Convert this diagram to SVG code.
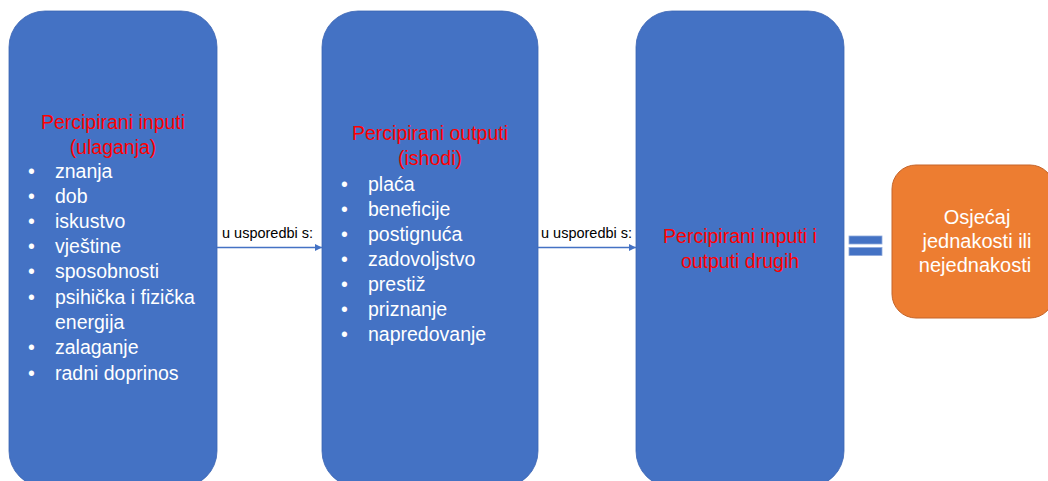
<svg xmlns="http://www.w3.org/2000/svg" width="1048" height="481" viewBox="0 0 1048 481">
<style>
.box{fill:#4472C4;stroke:#3B65B3;stroke-width:0.8}
.res{fill:#ED7D31;stroke:#C5652A;stroke-width:1}
.t{font-family:"Liberation Sans",Arial,sans-serif;font-size:19.5px}
.red{fill:#FF0000;text-anchor:middle}
.w{fill:#FFFFFF}
.wc{fill:#FFFFFF;text-anchor:middle;font-size:20px}
.lbl{font-family:"Liberation Sans",Arial,sans-serif;font-size:14.5px;fill:#000}
.con{stroke:#4472C4;stroke-width:1.5;fill:none}
</style>
<defs>
<marker id="ah" viewBox="0 0 10 10" refX="10" refY="5" markerWidth="5" markerHeight="5" orient="auto" markerUnits="strokeWidth">
<path d="M0,0 L10,5 L0,10 Z" fill="#4472C4"/>
</marker>
</defs>
<rect width="1048" height="481" fill="#FFFFFF"/>
<g id="inputs">
<rect class="box" x="9" y="11" width="208" height="476" rx="36" ry="36"/>
<text class="t red" x="113" y="129">Percipirani inputi</text>
<text class="t red" x="113" y="154">(ulaganja)</text>
<g class="t w">
<text x="28" y="178">•</text><text x="55" y="178">znanja</text>
<text x="28" y="203">•</text><text x="55" y="203">dob</text>
<text x="28" y="228">•</text><text x="55" y="228">iskustvo</text>
<text x="28" y="253">•</text><text x="55" y="253">vještine</text>
<text x="28" y="278">•</text><text x="55" y="278">sposobnosti</text>
<text x="28" y="303.5">•</text><text x="55" y="303.5">psihička i fizička</text>
<text x="55" y="329">energija</text>
<text x="28" y="354">•</text><text x="55" y="354">zalaganje</text>
<text x="28" y="379.5">•</text><text x="55" y="379.5">radni doprinos</text>
</g>
</g>
<g id="outputs">
<rect class="box" x="322" y="11" width="216" height="476" rx="36" ry="36"/>
<text class="t red" x="430" y="140">Percipirani outputi</text>
<text class="t red" x="430" y="165">(ishodi)</text>
<g class="t w">
<text x="341" y="191">•</text><text x="368" y="191">plaća</text>
<text x="341" y="216">•</text><text x="368" y="216">beneficije</text>
<text x="341" y="241">•</text><text x="368" y="241">postignuća</text>
<text x="341" y="266">•</text><text x="368" y="266">zadovoljstvo</text>
<text x="341" y="291">•</text><text x="368" y="291">prestiž</text>
<text x="341" y="316">•</text><text x="368" y="316">priznanje</text>
<text x="341" y="341">•</text><text x="368" y="341">napredovanje</text>
</g>
</g>
<g id="others">
<rect class="box" x="636" y="11" width="208" height="476" rx="36" ry="36"/>
<text class="t red" x="740" y="243">Percipirani inputi i</text>
<text class="t red" x="740" y="268">outputi drugih</text>
</g>
<g id="equals">
<rect x="849" y="236" width="33" height="8" fill="#4472C4" stroke="#8FAADC" stroke-width="0.8"/>
<rect x="849" y="247.5" width="33" height="8" fill="#4472C4" stroke="#8FAADC" stroke-width="0.8"/>
</g>
<g id="result">
<rect class="res" x="892" y="165" width="162" height="153" rx="24" ry="24"/>
<text class="t wc" x="977" y="224">Osjećaj</text>
<text class="t wc" x="977" y="248">jednakosti ili</text>
<text class="t wc" x="975" y="272">nejednakosti</text>
</g>
<g id="connectors">
<line class="con" x1="217" y1="247.5" x2="322" y2="247.5" marker-end="url(#ah)"/>
<text class="lbl" x="222" y="238">u usporedbi s:</text>
<line class="con" x1="538" y1="247.5" x2="636" y2="247.5" marker-end="url(#ah)"/>
<text class="lbl" x="541" y="238">u usporedbi s:</text>
</g>
</svg>
